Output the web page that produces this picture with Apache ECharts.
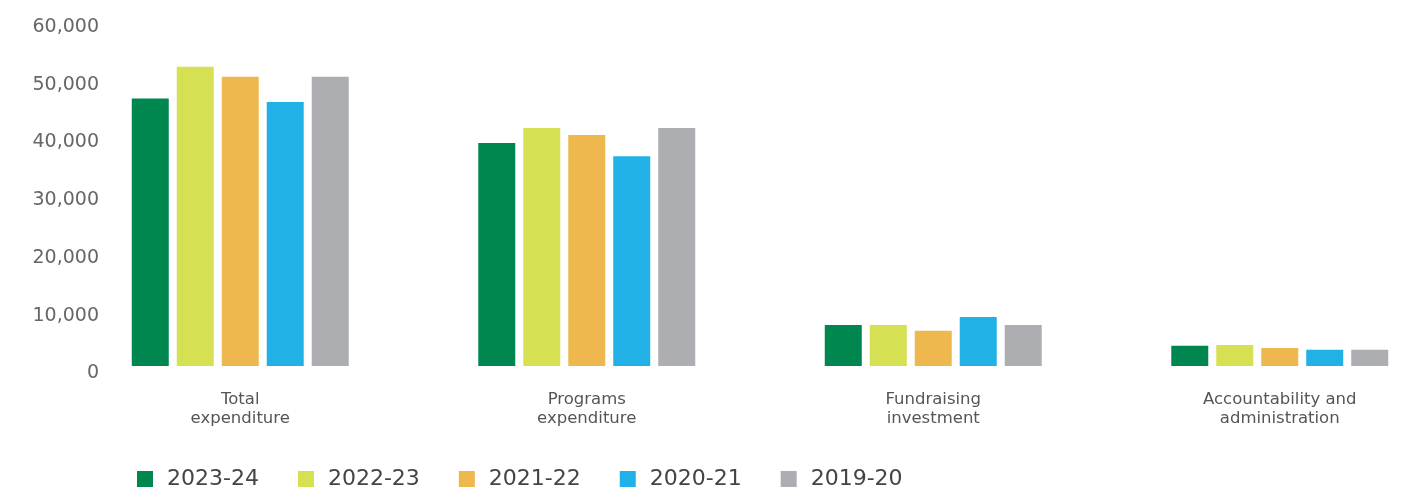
<!DOCTYPE html>
<html>
<head>
<meta charset="utf-8">
<script src="https://cdn.jsdelivr.net/npm/echarts@6/dist/echarts.min.js"></script>
<style>
  html, body { margin: 0; padding: 0; background: #fff; }
  #chart { width: 1407px; height: 490px; }
</style>
</head>
<body>
<div id="chart"></div>
<script>
// categories and series (values in $'000)
const categories = [
  "Total\nexpenditure",
  "Programs\nexpenditure",
  "Fundraising\ninvestment",
  "Accountability and\nadministration"
];
const years = ["2023-24", "2022-23", "2021-22", "2020-21", "2019-20"];
const colors = ["#00874f", "#d5e052", "#eeb84f", "#22b1e6", "#adaeb1"];

const fy2324 = [46300, 38600, 7100, 3500];
const fy2223 = [51800, 41200, 7100, 3650];
const fy2122 = [50100, 40000, 6100, 3100];
const fy2021 = [45700, 36300, 8500, 2800];
const fy1920 = [50100, 41200, 7100, 2800];
const seriesValues = [fy2324, fy2223, fy2122, fy2021, fy1920];

const chart = echarts.init(document.getElementById("chart"));

const option = {
  backgroundColor: "#fff",
  animation: false,
  grid: {
    left: 67,
    width: 1386,
    top: 19.5,
    height: 346.5,
    containLabel: false,
    outerBoundsMode: "none"
  },
  legend: {
    data: years,
    left: 137,
    top: 468,
    padding: 0,
    icon: "rect",
    itemWidth: 16,
    itemHeight: 16,
    itemGap: 39,
    textStyle: {
      fontFamily: "DejaVu Sans",
      fontSize: 22,
      color: "#444",
      padding: [0, 0, 0, 9]
    }
  },
  xAxis: {
    type: "category",
    data: categories,
    axisLine: { show: false },
    axisTick: { show: false },
    axisLabel: {
      margin: 24,
      fontFamily: "DejaVu Sans",
      fontSize: 16.5,
      lineHeight: 19,
      color: "#555",
      interval: 0
    }
  },
  yAxis: {
    type: "value",
    min: 0,
    max: 60000,
    interval: 10000,
    offset: -32,
    axisLine: { show: false },
    axisTick: { show: false },
    splitLine: { show: false },
    axisLabel: {
      margin: 0,
      fontFamily: "DejaVu Sans",
      fontSize: 19,
      color: "#666",
      verticalAlign: "top",
      lineHeight: 15,
      formatter: (v) => v.toLocaleString("en-US")
    }
  },
  series: years.map((name, i) => ({
    name: name,
    type: "bar",
    data: seriesValues[i],
    barWidth: 37,
    barGap: "21.6%",
    itemStyle: { color: colors[i] }
  }))
};

chart.setOption(option);
</script>
</body>
</html>
